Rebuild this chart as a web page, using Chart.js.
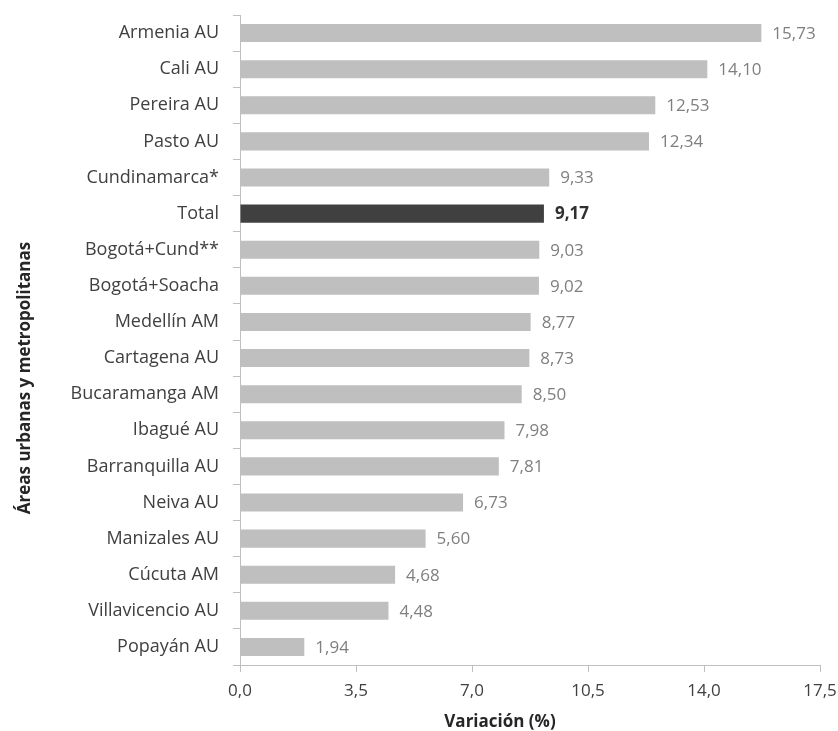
<!DOCTYPE html>
<html>
<head>
<meta charset="utf-8">
<script src="https://cdn.jsdelivr.net/npm/chart.js@4/dist/chart.umd.min.js"></script>
<style>
  html, body { margin: 0; padding: 0; background: #fff; }
  #wrap { width: 838px; height: 731px; position: relative; }
</style>
</head>
<body>
<div id="wrap"><canvas id="barChart"></canvas></div>
<script>
// Chart data
const categories = [
  'Armenia AU', 'Cali AU', 'Pereira AU', 'Pasto AU', 'Cundinamarca*', 'Total',
  'Bogotá+Cund**', 'Bogotá+Soacha', 'Medellín AM', 'Cartagena AU', 'Bucaramanga AM',
  'Ibagué AU', 'Barranquilla AU', 'Neiva AU', 'Manizales AU', 'Cúcuta AM',
  'Villavicencio AU', 'Popayán AU'
];
const variation = [
  15.73, 14.10, 12.53, 12.34, 9.33, 9.17, 9.03, 9.02, 8.77, 8.73, 8.50,
  7.98, 7.81, 6.73, 5.60, 4.68, 4.48, 1.94
];
const xTicks = [0, 3.5, 7, 10.5, 14, 17.5];
const xTitle = 'Variación (%)';
const yTitle = 'Áreas urbanas y metropolitanas';

const FONT = "'Open Sans', 'Noto Sans', sans-serif";
const highlight = 'Total';

const fmt = (v, d) => v.toFixed(d).replace('.', ',');

// draws value text at the end of each bar
const valueLabels = {
  id: 'valueLabels',
  afterDatasetsDraw(chart) {
    const {ctx} = chart;
    const meta = chart.getDatasetMeta(0);
    ctx.save();
    ctx.textBaseline = 'middle';
    ctx.textAlign = 'left';
    meta.data.forEach((bar, i) => {
      const isTotal = categories[i] === highlight;
      ctx.font = (isTotal ? 'bold ' : '') + '17px ' + FONT;
      ctx.fillStyle = isTotal ? '#303030' : '#7f7f7f';
      ctx.fillText(fmt(variation[i], 2), bar.x + 11, bar.y + 1);
    });
    ctx.restore();
  }
};

// axis titles (placed like the original, a bit off the plot centre)
const axisTitles = {
  id: 'axisTitles',
  afterDraw(chart) {
    const {ctx, chartArea: a} = chart;
    ctx.save();
    ctx.font = 'bold 17px ' + FONT;
    ctx.fillStyle = '#262626';
    ctx.textAlign = 'center';
    ctx.textBaseline = 'middle';
    ctx.fillText(xTitle, (a.left + a.right) / 2 - 30, 722);
    ctx.translate(25, (a.top + a.bottom) / 2 + 38);
    ctx.rotate(-Math.PI / 2);
    ctx.fillText(yTitle, 0, 0);
    ctx.restore();
  }
};

const ctx = document.getElementById('barChart').getContext('2d');
new Chart(ctx, {
  type: 'bar',
  data: {
    labels: categories,
    datasets: [{
      data: variation,
      backgroundColor: categories.map(c => c === highlight ? '#404040' : '#bfbfbf'),
      categoryPercentage: 1,
      barPercentage: 0.5,
    }],
  },
  options: {
    responsive: true,
    maintainAspectRatio: false,
    indexAxis: 'y',
    animation: false,
    layout: {padding: {top: 15, right: 0, bottom: 0, left: 0}},
    plugins: {
      legend: {display: false},
      tooltip: {enabled: false},
    },
    scales: {
      x: {
        type: 'linear',
        min: 0,
        max: 17.5,
        afterBuildTicks: (axis) => { axis.ticks = xTicks.map(v => ({value: v})); },
        afterFit: (axis) => {
          axis.height = 66;
          axis.paddingLeft = 0;
          axis.paddingRight = 18;
        },
        border: {color: '#bfbfbf', width: 1},
        grid: {drawOnChartArea: false, tickLength: 7, color: '#bfbfbf'},
        ticks: {
          callback: (v) => fmt(v, 1),
          color: '#404040',
          font: {family: FONT, size: 17},
          padding: 9,
          maxRotation: 0,
        },
      },
      y: {
        afterFit: (axis) => {
          axis.width = 240;
          axis.paddingTop = 0;
          axis.paddingBottom = 0;
        },
        border: {color: '#bfbfbf', width: 1},
        grid: {drawOnChartArea: false, tickLength: 7, color: '#bfbfbf', offset: true},
        ticks: {
          color: '#404040',
          font: {family: FONT, size: 18},
          padding: 14,
        },
      },
    },
  },
  plugins: [valueLabels, axisTitles],
});
</script>
</body>
</html>
